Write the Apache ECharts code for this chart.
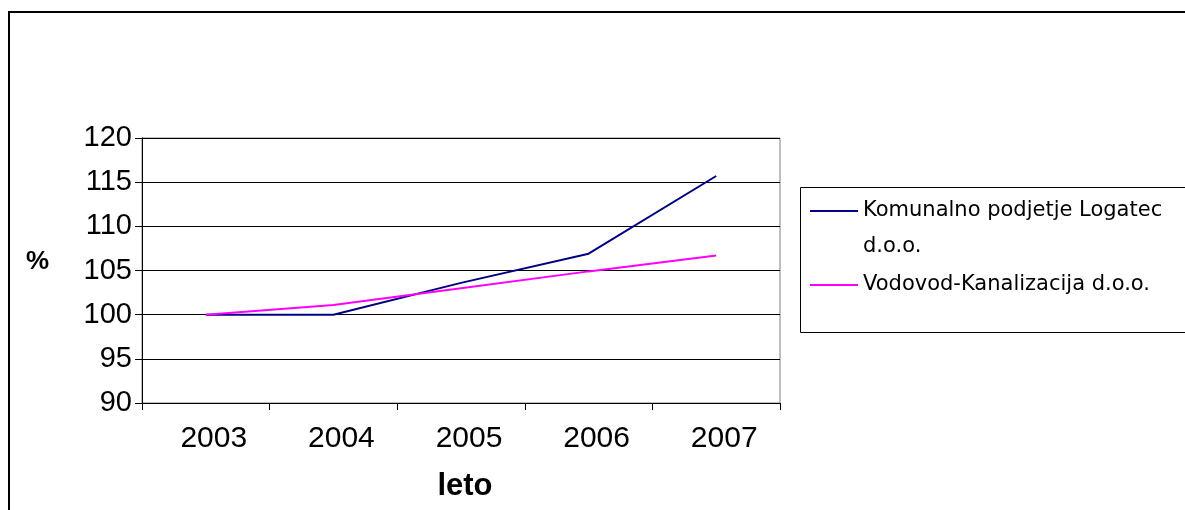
<!DOCTYPE html>
<html>
<head>
<meta charset="utf-8">
<script src="https://cdn.jsdelivr.net/npm/echarts@6/dist/echarts.min.js"></script>
<style>
html,body{margin:0;padding:0;background:#fff;}
#chart{width:1185px;height:510px;}
</style>
</head>
<body>
<div id="chart"></div>
<script>
var categories = ['2003', '2004', '2005', '2006', '2007'];
var seriesNames = ['Komunalno podjetje Logatec d.o.o.', 'Vodovod-Kanalizacija d.o.o.'];
var komunalno = [100, 100, 103.6, 106.9, 115.7];
var vodovod = [100, 101.1, 103.0, 104.9, 106.7];
var yTicks = { min: 90, max: 120, interval: 5 };

var chart = echarts.init(document.getElementById('chart'), null, { renderer: 'canvas' });
var legendText = {
  fontFamily: 'DejaVu Sans',
  fontSize: 21,
  color: '#000',
  lineHeight: 36,
  width: 315,
  overflow: 'break'
};
chart.setOption({
  animation: false,
  backgroundColor: '#fff',
  graphic: [
    { type: 'rect', shape: { x: 9, y: 12, width: 1200, height: 600 },
      style: { fill: 'none', stroke: '#000', lineWidth: 2 }, silent: true, z: 0 },
    { type: 'rect', shape: { x: 800.5, y: 187.5, width: 400, height: 145 },
      style: { fill: 'none', stroke: '#000', lineWidth: 1 }, silent: true, z: 0 }
  ],
  legend: [
    {
      data: [seriesNames[0]],
      orient: 'vertical', left: 810, top: 157, padding: 0,
      itemWidth: 48, itemHeight: 2, itemGap: 0,
      icon: 'rect',
      formatter: function (name) { return '\n' + name; },
      textStyle: legendText
    },
    {
      data: [seriesNames[1]],
      orient: 'vertical', left: 810, top: 267, padding: 0,
      itemWidth: 48, itemHeight: 2, itemGap: 0,
      icon: 'rect',
      textStyle: legendText
    }
  ],
  grid: { left: 142, right: 405, top: 138, bottom: 107, show: true, borderColor: '#808080', borderWidth: 1 },
  xAxis: {
    type: 'category',
    data: categories,
    boundaryGap: true,
    name: 'leto',
    nameLocation: 'middle',
    nameGap: 68,
    nameTextStyle: { fontFamily: 'Liberation Sans', fontSize: 31, fontWeight: 'bold', color: '#000', padding: [0, 0, 0, 8] },
    axisLine: { lineStyle: { color: '#000', width: 1 } },
    axisTick: { show: true, length: 7, alignWithLabel: false, lineStyle: { color: '#000' } },
    axisLabel: { fontFamily: 'Liberation Sans', fontSize: 30, color: '#000', margin: 21, padding: [0, 0, 0, 16] },
    splitLine: { show: false }
  },
  yAxis: {
    type: 'value',
    min: yTicks.min, max: yTicks.max, interval: yTicks.interval,
    name: '%',
    nameLocation: 'middle',
    nameRotate: 0,
    nameGap: 93,
    nameTextStyle: { fontFamily: 'Liberation Sans', fontSize: 26, fontWeight: 'bold', color: '#000', verticalAlign: 'bottom', lineHeight: 17 },
    axisLine: { show: true, lineStyle: { color: '#000', width: 1 } },
    axisTick: { show: true, length: 7, lineStyle: { color: '#000' } },
    axisLabel: { fontFamily: 'Liberation Sans', fontSize: 29, color: '#000', margin: 10 },
    splitLine: { show: true, lineStyle: { color: '#000', width: 1 } }
  },
  series: [
    {
      name: seriesNames[0], type: 'line', data: komunalno,
      symbol: 'none', lineStyle: { color: '#000080', width: 2 }, itemStyle: { color: '#000080' }
    },
    {
      name: seriesNames[1], type: 'line', data: vodovod,
      symbol: 'none', lineStyle: { color: '#FF00FF', width: 2 }, itemStyle: { color: '#FF00FF' }
    }
  ]
});
</script>
</body>
</html>
